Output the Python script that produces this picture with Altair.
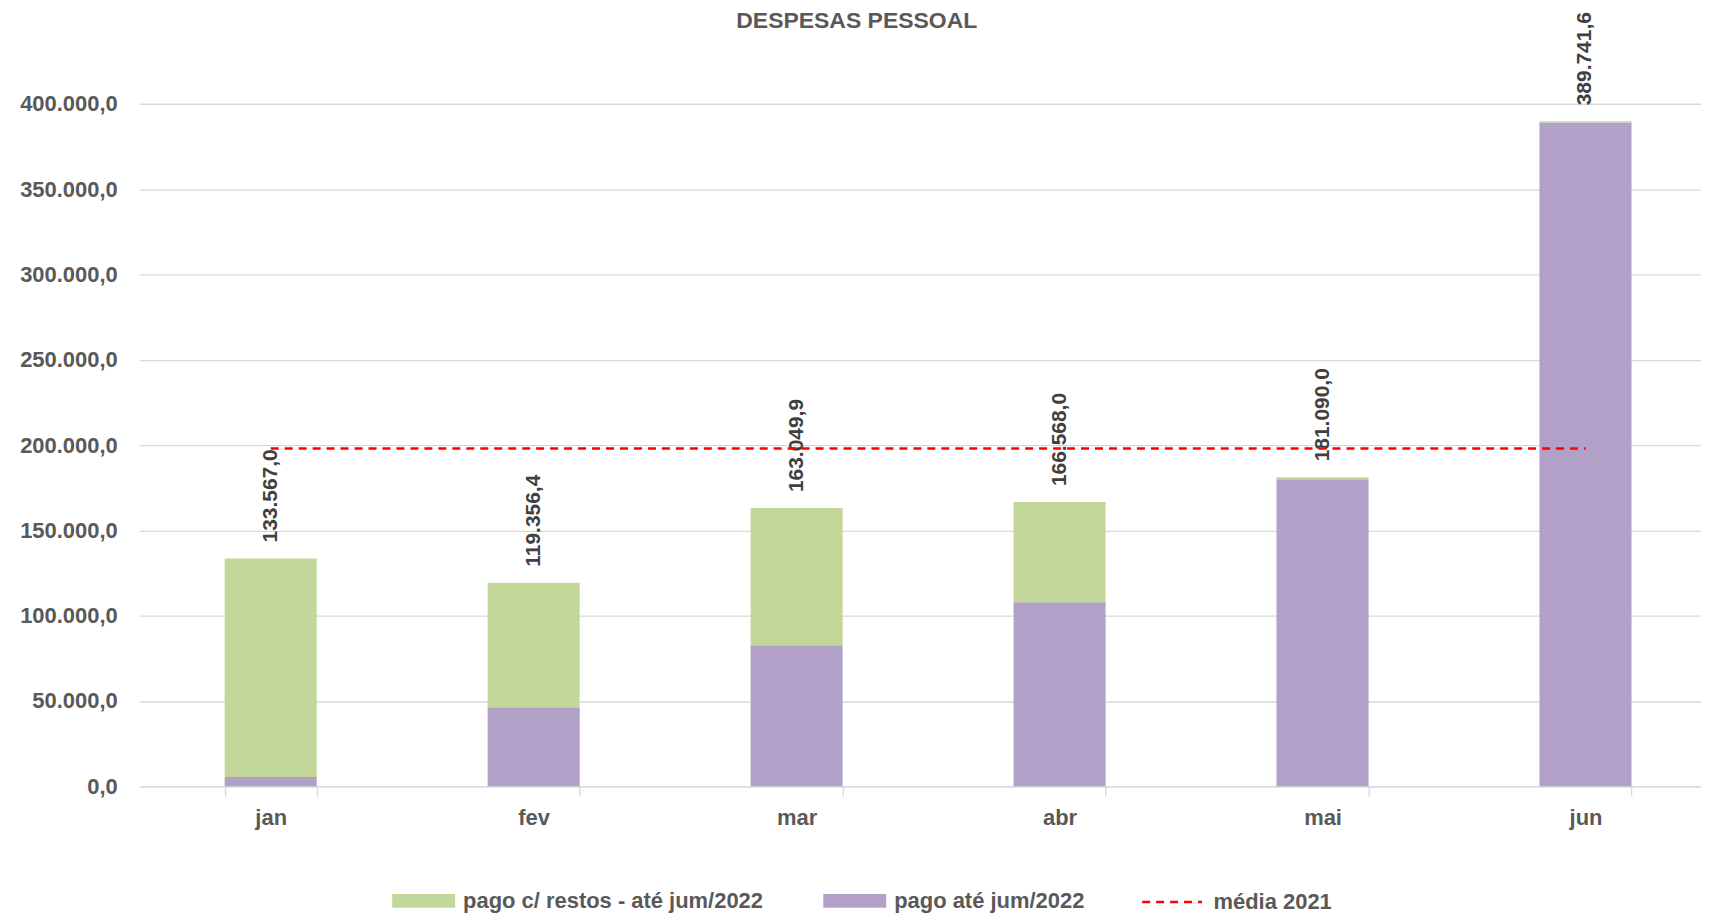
import altair as alt
import pandas as pd

# ---------------- data ----------------
months = ["jan", "fev", "mar", "abr", "mai", "jun"]
pago_ate = [5500.0, 46300.0, 82700.0, 107900.0, 180000.0, 389000.0]
pago_restos = [128067.0, 73056.4, 80349.9, 58668.0, 1090.0, 741.6]
totals = [133567.0, 119356.4, 163049.9, 166568.0, 181090.0, 389741.6]
media_2021 = [198000.0] * 6
y_ticks = [0, 50000, 100000, 150000, 200000, 250000, 300000, 350000, 400000]

lab_restos = "pago c/ restos - até jum/2022"
lab_ate = "pago até jum/2022"
lab_media = "média 2021"
title_text = "DESPESAS PESSOAL"

# ---------------- styles ----------------
GREEN = "#c4d79b"
PURPLE = "#b1a0c7"
RED = "#ff0000"
GRAY = "#595959"
DARK = "#404040"
GRID = "#d9d9d9"
FONT = "Liberation Sans"

bars_df = pd.DataFrame({
    "mes": months * 2,
    "serie": [lab_ate] * len(months) + [lab_restos] * len(months),
    "valor": pago_ate + pago_restos,
    "ordem": [0] * len(months) + [1] * len(months),
})
tot_df = pd.DataFrame({"mes": months, "total": totals})
media_df = pd.DataFrame({"mes": months, "media": media_2021, "linha": [lab_media] * len(months)})

x_scale = alt.Scale(type="band", range=[0, 1581], paddingInner=0.65, paddingOuter=0.325)
x_axis = alt.Axis(
    title=None, labelAngle=0, tickBand="extent", tickSize=10, tickColor=GRID, tickWidth=1.3,
    domainColor=GRID, domainWidth=1.3, labelFont=FONT, labelFontSize=22, labelFontWeight="bold",
    labelColor=GRAY, labelPadding=11, grid=False,
)
y_scale = alt.Scale(domain=[0, 400000], nice=False)
y_axis = alt.Axis(
    title=None, values=y_ticks, format=",.1f", domain=False, ticks=False, labelPadding=22,
    labelFont=FONT, labelFontSize=22, labelFontWeight="bold", labelColor=GRAY,
    grid=True, gridColor=GRID, gridWidth=1.3,
)

bars = alt.Chart(bars_df).mark_bar().encode(
    x=alt.X("mes:N", sort=months, scale=x_scale, axis=x_axis),
    y=alt.Y("valor:Q", stack="zero", scale=y_scale, axis=y_axis),
    color=alt.Color(
        "serie:N",
        scale=alt.Scale(domain=[lab_restos, lab_ate], range=[GREEN, PURPLE]),
        legend=alt.Legend(
            title=None, orient="none", legendX=253.5, legendY=767, direction="horizontal",
            symbolType="M-1,-0.22H1V0.22H-1Z", symbolSize=3969, symbolStrokeWidth=0,
            symbolOpacity=1, labelFont=FONT, labelFontSize=22, labelFontWeight="bold",
            labelColor=GRAY, labelOffset=8, labelLimit=500, columnPadding=60, padding=0,
        ),
    ),
    order=alt.Order("ordem:Q"),
)

labels = alt.Chart(tot_df).mark_text(
    angle=270, align="left", baseline="middle", dx=16, font=FONT, fontSize=21,
    fontWeight="bold", color=DARK,
).encode(
    x=alt.X("mes:N", sort=months, scale=x_scale),
    y=alt.Y("total:Q", scale=y_scale),
    text=alt.Text("total:Q", format=",.1f"),
)

line = alt.Chart(media_df).mark_line(color=RED, strokeWidth=2.5).encode(
    x=alt.X("mes:N", sort=months, scale=x_scale),
    y=alt.Y("media:Q", scale=y_scale),
    strokeDash=alt.StrokeDash(
        "linha:N",
        scale=alt.Scale(domain=[lab_media], range=[[8, 6]]),
        legend=alt.Legend(
            title=None, orient="none", legendX=1003.5, legendY=768.5,
            symbolType="stroke", symbolSize=3600, symbolStrokeColor=RED, symbolStrokeWidth=2.5,
            labelFont=FONT, labelFontSize=22, labelFontWeight="bold", labelColor=GRAY,
            labelOffset=10, labelLimit=400, padding=0,
        ),
    ),
)

chart = alt.layer(bars, labels, line).properties(
    width=1565,
    height=684,
    title=alt.TitleParams(
        text=title_text, anchor="middle", frame="group", dx=-63.5, offset=-21, font=FONT,
        fontSize=23, fontWeight="bold", color=GRAY,
    ),
    autosize=alt.AutoSizeParams(type="none"),
    padding={"left": 131.5, "top": 95, "right": 0, "bottom": 128},
    background="white",
).configure_view(stroke=None)

chart.save(
    "out.html",
    embed_options={
        "renderer": "svg",
        "actions": False,
        "formatLocale": {"decimal": ",", "thousands": ".", "grouping": [3], "currency": ["R$", ""]},
    },
)
